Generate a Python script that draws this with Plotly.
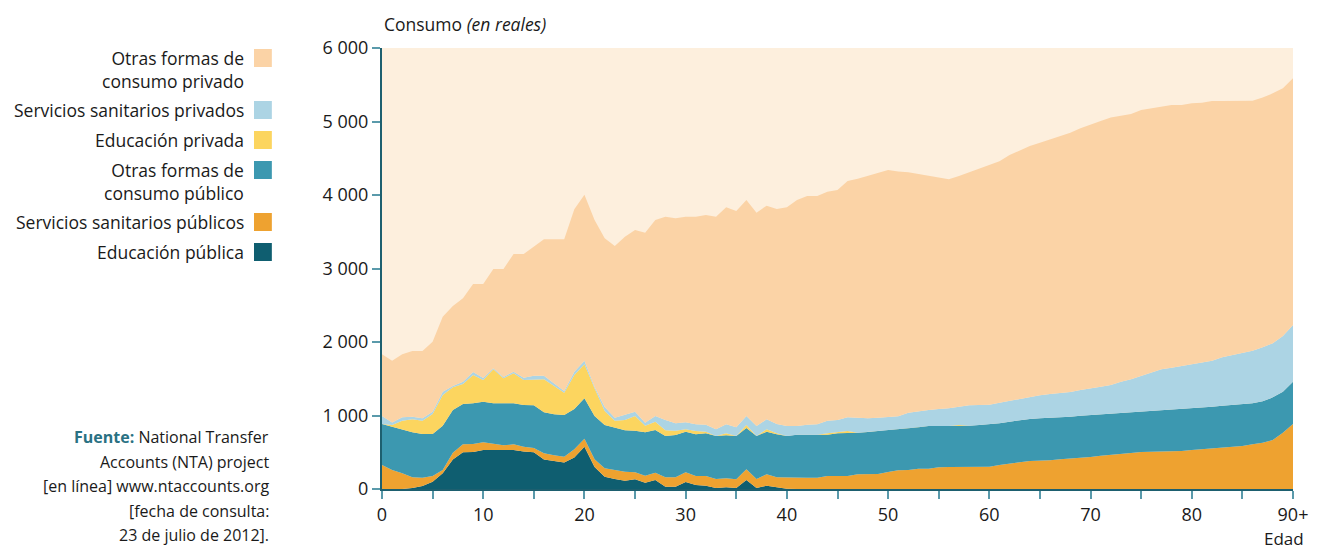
import plotly.graph_objects as go

ages = list(range(91))

edu_pub = [0, 0, 0, 15, 40, 100, 213, 400, 500, 505, 530, 530, 530, 530, 510, 500, 400, 380, 360, 430,
           575, 300, 165, 136, 112, 131, 86, 122, 32, 32, 95, 54, 45, 14, 23, 14, 122, 14, 45, 23,
           5] + [0] * 50

san_pub = [327, 258, 213, 145, 114, 77, 45, 94, 108, 107, 105, 82, 64, 78, 66, 58, 85, 78, 80, 110,
           110, 104, 116, 122, 124, 96, 95, 100, 127, 127, 132, 123, 132, 122, 122, 117, 146, 122, 155, 136,
           149, 154, 154, 154, 177, 177, 177, 200, 204, 204, 231, 254, 258, 277, 277, 295, 299, 299, 299, 299,
           304, 327, 340, 363, 381, 381, 390, 404, 413, 426, 435, 454, 463, 481, 490, 503, 508, 508, 508, 517,
           531, 540, 553, 562, 576, 585, 608, 630, 667, 766, 884]

otras_pub = [557, 590, 599, 611, 594, 571, 604, 581, 548, 554, 553, 554, 572, 558, 567, 580, 558, 558, 567, 548,
             549, 589, 589, 582, 564, 567, 590, 581, 562, 576, 553, 567, 580, 585, 585, 590, 562, 585, 580, 585,
             567, 585, 585, 585, 562, 580, 580, 566, 572, 585, 572, 558, 567, 562, 580, 562, 558, 558, 563, 572,
             576, 566, 576, 576, 571, 580, 576, 571, 571, 572, 572, 562, 566, 558, 562, 558, 553, 567, 580, 571,
             566, 571, 567, 572, 567, 571, 558, 563, 580, 558, 576]

edu_priv = [0, 22, 118, 177, 182, 272, 417, 308, 273, 385, 295, 462, 340, 408, 340, 354, 449, 385, 304, 463,
            462, 377, 190, 90, 140, 199, 89, 113, 79, 59, 32, 45, 23, 0, 27, 0, 41, 0, 32, 13,
            0, 0, 0, 0, 21, 23, 33, 0, 0, 0, 0, 0, 0, 0, 0, 0, 0, 13] + [0] * 33

san_priv = [109, 36, 45, 36, 31, 32, 45, 18, 31, 41, 27, 14, 19, 22, 32, 50, 50, 37, 24, 45,
            50, 22, 55, 38, 67, 59, 40, 77, 140, 99, 95, 91, 95, 91, 123, 118, 122, 136, 136, 127,
            136, 118, 136, 141, 170, 159, 185, 200, 185, 181, 181, 177, 214, 222, 218, 231, 240, 250, 276, 272,
            267, 282, 286, 286, 304, 314, 327, 327, 336, 349, 358, 376, 386, 421, 440, 476, 513, 553, 563, 585,
            599, 608, 626, 657, 680, 690, 716, 734, 735, 758, 771]

otras_priv = [839, 839, 857, 893, 916, 952, 1021, 1089, 1134, 1197, 1279, 1351, 1468, 1601, 1682, 1755, 1855, 1959, 2062, 2209,
              2258, 2268, 2295, 2338, 2426, 2472, 2588, 2667, 2765, 2790, 2798, 2825, 2853, 2893, 2952, 2943, 2939, 2903, 2907, 2926,
              2975, 3075, 3112, 3107, 3115, 3129, 3215, 3254, 3299, 3330, 3356, 3331, 3269, 3224, 3185, 3147, 3116, 3140, 3172, 3220,
              3263, 3285, 3342, 3378, 3411, 3437, 3465, 3492, 3528, 3560, 3587, 3614, 3641, 3614, 3609, 3619, 3605, 3573, 3573, 3551,
              3551, 3537, 3532, 3487, 3455, 3432, 3401, 3401, 3401, 3369, 3356]

x_ticks = list(range(0, 91, 5))
x_labels = ["0", "", "10", "", "20", "", "30", "", "40", "", "50", "", "60", "", "70", "", "80", "", "90+"]
y_ticks = [0, 1000, 2000, 3000, 4000, 5000, 6000]
y_labels = ["0", "1 000", "2 000", "3 000", "4 000", "5 000", "6 000"]

series = [
    ("Educación pública", edu_pub, "#0f5e70"),
    ("Servicios sanitarios públicos", san_pub, "#eea230"),
    ("Otras formas de consumo público", otras_pub, "#3c98b0"),
    ("Educación privada", edu_priv, "#fcd55f"),
    ("Servicios sanitarios privados", san_priv, "#acd4e4"),
    ("Otras formas de consumo privado", otras_priv, "#fbd3a6"),
]

FONT = "Open Sans"
TXT = "#1a1a1a"

fig = go.Figure()
for name, vals, col in series:
    fig.add_trace(go.Scatter(x=ages, y=vals, name=name, mode="lines", stackgroup="one",
                             line=dict(width=0, color=col), fillcolor=col, showlegend=False))

fig.update_layout(
    width=1320, height=550,
    margin=dict(l=382, r=20, t=48, b=61),
    paper_bgcolor="white", plot_bgcolor="#fdefdd",
    font=dict(family=FONT, size=16, color=TXT),
    xaxis=dict(range=[0, 90], tickvals=x_ticks, ticktext=x_labels, showgrid=False, zeroline=False,
               showline=True, linecolor="#1d5f6f", linewidth=2, ticks="outside", ticklen=8,
               tickwidth=1.5, tickcolor="#5a9aab", tickfont=dict(size=18, color=TXT)),
    yaxis=dict(range=[0, 6000], tickvals=y_ticks, ticktext=y_labels, showgrid=False, zeroline=False,
               showline=True, linecolor="#1d5f6f", linewidth=2, ticks="outside", ticklen=8,
               tickwidth=1.5, tickcolor="#5a9aab", tickfont=dict(size=18, color=TXT)),
)

# titulos de ejes
fig.add_annotation(x=0, y=1.054, xref="paper", yref="paper", xanchor="left", yanchor="middle",
                   text="Consumo <i>(en reales)</i>", showarrow=False, font=dict(size=17.5))
fig.add_annotation(x=0.990, y=-0.113, xref="paper", yref="paper", xanchor="center", yanchor="middle",
                   text="Edad", showarrow=False, font=dict(size=17))

# leyenda manual (texto a la izquierda, cuadro a la derecha)
legend_items = [
    ("Otras formas de<br>consumo privado", "#fbd3a6", 69, 58),
    ("Servicios sanitarios privados", "#acd4e4", 110, 110),
    ("Educación privada", "#fcd55f", 140, 140),
    ("Otras formas de<br>consumo público", "#3c98b0", 181, 170),
    ("Servicios sanitarios públicos", "#eea230", 222, 222),
    ("Educación pública", "#0f5e70", 252, 252),
]

PLOT_W = 1320 - 382 - 20


def px_x(px):
    return (px - 382) / PLOT_W


def px_y(py):
    return (489 - py) / 441


for text, col, ty, sy in legend_items:
    fig.add_annotation(x=px_x(245), y=px_y(ty), xref="paper", yref="paper", xanchor="right",
                       yanchor="middle", align="right", text=text, showarrow=False,
                       font=dict(size=17.5))
    fig.add_shape(type="rect", xref="paper", yref="paper", x0=px_x(253), x1=px_x(271),
                  y0=px_y(sy + 9), y1=px_y(sy - 9), fillcolor=col, line=dict(width=0))

source_lines = [
    "<b><span style='color:#2a7183'>Fuente:</span></b> National Transfer",
    "Accounts (NTA) project",
    "[en línea] www.ntaccounts.org",
    "[fecha de consulta:",
    "23 de julio de 2012].",
]
for i, line in enumerate(source_lines):
    fig.add_annotation(x=px_x(270), y=px_y(437 + 24.5 * i), xref="paper", yref="paper",
                       xanchor="right", yanchor="middle", align="right", text=line,
                       showarrow=False, font=dict(size=16))

fig.write_html("out.html", config={"displayModeBar": False},
               post_script="document.body.style.margin='0';")
